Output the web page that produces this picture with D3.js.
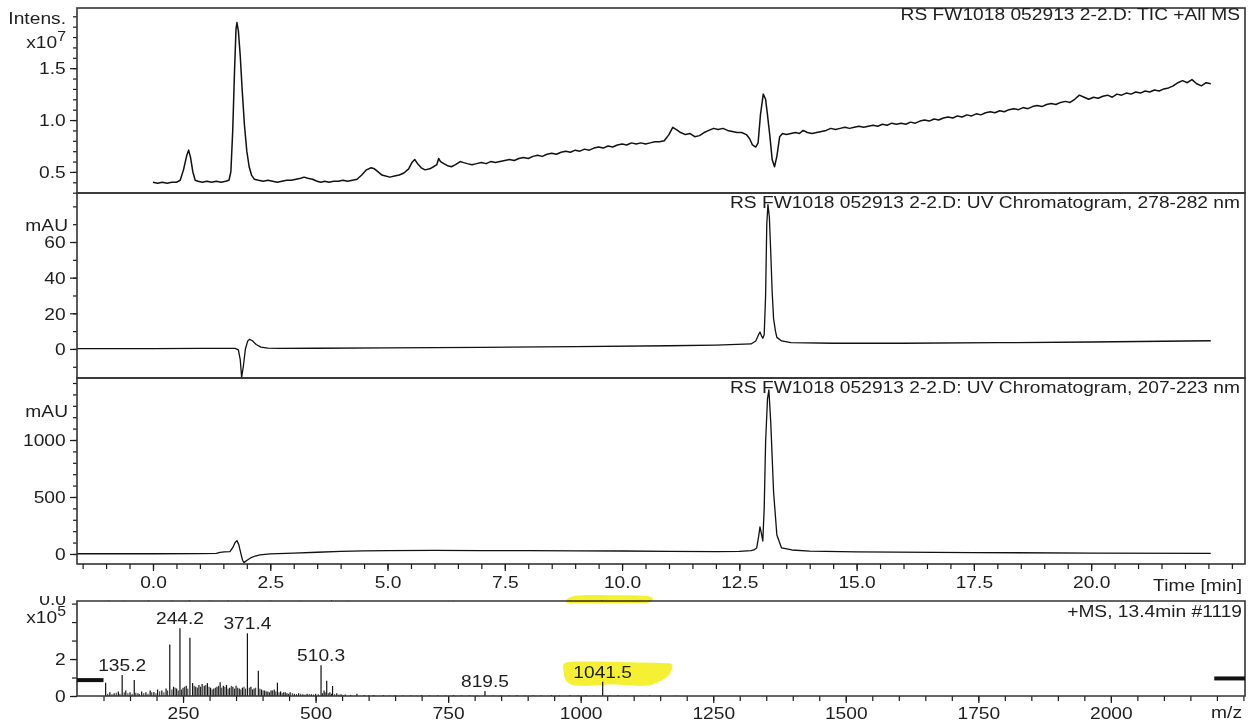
<!DOCTYPE html>
<html>
<head>
<meta charset="utf-8">
<script src="https://cdn.jsdelivr.net/npm/d3@7"></script>
<style>
  body { margin: 0; background: #fff; }
  svg { display: block; }
  text { font-family: "Liberation Sans", Arial, sans-serif; fill: #1e1e1e; }
</style>
</head>
<body>
<svg id="chart" width="1257" height="723"></svg>
<script>
'use strict';

// ---- data ----
// TIC +All MS, [time min, intensity x10^7]
var ticPoints = [
  [0.00,0.40],[0.10,0.39],[0.20,0.40],[0.30,0.39],[0.40,0.40],[0.50,0.40],[0.58,0.42],[0.65,0.52],[0.72,0.66],[0.76,0.71],
  [0.80,0.64],[0.85,0.50],[0.90,0.42],[0.96,0.41],[1.05,0.40],[1.15,0.41],[1.25,0.40],[1.35,0.41],[1.45,0.40],[1.55,0.41],
  [1.62,0.42],[1.66,0.50],[1.70,0.90],[1.74,1.50],[1.77,1.88],[1.79,1.94],[1.82,1.86],[1.86,1.62],[1.90,1.30],[1.95,0.95],
  [2.00,0.70],[2.05,0.55],[2.10,0.47],[2.16,0.43],[2.25,0.42],[2.35,0.41],[2.45,0.42],[2.55,0.41],[2.65,0.40],[2.75,0.41],
  [2.85,0.42],[2.95,0.42],[3.05,0.43],[3.15,0.44],[3.22,0.45],[3.30,0.44],[3.40,0.43],[3.50,0.41],[3.58,0.40],[3.66,0.41],
  [3.75,0.40],[3.85,0.41],[3.95,0.41],[4.05,0.42],[4.15,0.41],[4.25,0.42],[4.35,0.43],[4.45,0.47],[4.55,0.52],[4.65,0.54],
  [4.72,0.53],[4.80,0.50],[4.88,0.47],[4.96,0.46],[5.05,0.45],[5.15,0.46],[5.25,0.47],[5.35,0.49],[5.45,0.53],[5.52,0.59],
  [5.58,0.62],[5.64,0.58],[5.72,0.54],[5.80,0.52],[5.90,0.53],[5.98,0.55],[6.05,0.57],[6.09,0.63],[6.13,0.60],[6.20,0.58],
  [6.28,0.56],[6.36,0.55],[6.45,0.57],[6.55,0.60],[6.62,0.59],[6.70,0.58],[6.80,0.57],[6.90,0.58],[7.00,0.59],[7.10,0.58],
  [7.20,0.60],[7.30,0.59],[7.40,0.60],[7.50,0.61],[7.60,0.62],[7.70,0.61],[7.80,0.63],[7.90,0.64],[8.00,0.63],[8.10,0.65],
  [8.20,0.66],[8.30,0.65],[8.40,0.67],[8.50,0.68],[8.60,0.67],[8.70,0.69],[8.80,0.70],[8.90,0.69],[9.00,0.71],[9.10,0.70],
  [9.20,0.72],[9.30,0.71],[9.40,0.73],[9.50,0.74],[9.60,0.73],[9.70,0.75],[9.80,0.74],[9.90,0.76],[10.00,0.77],[10.10,0.76],
  [10.20,0.78],[10.30,0.77],[10.40,0.78],[10.50,0.77],[10.60,0.78],[10.70,0.79],[10.80,0.79],[10.90,0.80],[11.00,0.86],[11.08,0.93],
  [11.15,0.91],[11.25,0.88],[11.35,0.86],[11.45,0.87],[11.55,0.84],[11.65,0.85],[11.75,0.88],[11.85,0.90],[11.95,0.92],[12.05,0.91],
  [12.15,0.92],[12.25,0.90],[12.35,0.89],[12.45,0.88],[12.55,0.88],[12.65,0.86],[12.72,0.82],[12.78,0.76],[12.85,0.74],[12.90,0.78],
  [12.95,1.05],[13.01,1.25],[13.06,1.20],[13.10,1.05],[13.15,0.85],[13.20,0.62],[13.25,0.55],[13.30,0.65],[13.36,0.84],[13.42,0.87],
  [13.50,0.86],[13.60,0.87],[13.70,0.88],[13.78,0.87],[13.86,0.90],[13.95,0.88],[14.05,0.87],[14.15,0.88],[14.25,0.89],[14.35,0.90],
  [14.45,0.92],[14.55,0.91],[14.65,0.92],[14.75,0.93],[14.85,0.92],[14.95,0.93],[15.05,0.94],[15.15,0.93],[15.25,0.94],[15.35,0.95],
  [15.45,0.94],[15.55,0.96],[15.65,0.95],[15.75,0.97],[15.85,0.96],[15.95,0.97],[16.05,0.96],[16.15,0.98],[16.25,0.97],[16.35,0.99],
  [16.45,1.00],[16.55,0.99],[16.65,1.01],[16.75,1.00],[16.85,1.02],[16.95,1.03],[17.05,1.02],[17.15,1.04],[17.25,1.03],[17.35,1.05],
  [17.45,1.04],[17.55,1.06],[17.65,1.05],[17.75,1.07],[17.85,1.08],[17.95,1.07],[18.05,1.09],[18.15,1.08],[18.25,1.10],[18.35,1.11],
  [18.45,1.10],[18.55,1.12],[18.65,1.11],[18.75,1.13],[18.85,1.14],[18.95,1.13],[19.05,1.15],[19.15,1.16],[19.25,1.15],[19.35,1.17],
  [19.45,1.18],[19.55,1.17],[19.65,1.20],[19.75,1.24],[19.85,1.22],[19.95,1.20],[20.05,1.22],[20.15,1.21],[20.25,1.23],[20.35,1.24],
  [20.45,1.22],[20.55,1.25],[20.65,1.24],[20.75,1.26],[20.85,1.25],[20.95,1.27],[21.05,1.26],[21.15,1.28],[21.25,1.27],[21.35,1.29],
  [21.45,1.28],[21.55,1.30],[21.65,1.31],[21.75,1.33],[21.85,1.36],[21.95,1.38],[22.05,1.36],[22.15,1.39],[22.25,1.35],[22.35,1.33],
  [22.45,1.36],[22.55,1.35]
];

// UV 278-282 nm, [time min, mAU]
var uv280Points = [
  [-1.62,0.2],[0.0,0.2],[1.0,0.3],[1.75,0.3],[1.82,-0.5],[1.86,-6],[1.89,-16],[1.93,-9],[1.97,0],[2.02,4.5],
  [2.06,5.4],[2.12,4.6],[2.20,2.5],[2.30,1.0],[2.45,0.5],[2.70,0.3],[3.5,0.4],[5.0,0.6],[7.0,0.9],[9.0,1.3],
  [11.0,1.8],[12.0,2.2],[12.75,2.8],[12.85,4.5],[12.91,8],[12.94,9.5],[12.97,7.5],[13.00,6],[13.03,8],[13.06,30],
  [13.085,70],[13.11,81],[13.14,74],[13.17,54],[13.20,32],[13.23,17],[13.27,10],[13.30,6.5],[13.40,4.5],[13.60,3.6],
  [14.5,3.2],[16.0,3.2],[18.0,3.5],[20.0,3.9],[22.55,4.6]
];

// UV 207-223 nm, [time min, mAU]
var uv215Points = [
  [-1.62,2],[0.0,2],[1.0,3],[1.35,6],[1.43,14],[1.52,18],[1.64,20],[1.70,55],[1.75,100],[1.79,117],
  [1.83,80],[1.87,10],[1.91,-55],[1.94,-76],[1.99,-60],[2.08,-35],[2.18,-18],[2.28,-8],[2.50,0],[3.0,8],
  [3.5,15],[4.0,22],[4.5,27],[5.0,30],[6.0,31],[7.0,30],[8.0,29],[9.0,28],[10.0,26],[11.0,23],
  [12.0,20],[12.5,22],[12.75,30],[12.81,35],[12.87,53],[12.91,150],[12.94,237],[12.97,180],[13.00,114],[13.03,400],
  [13.06,982],[13.10,1360],[13.13,1439],[13.17,1150],[13.23,544],[13.30,167],[13.40,53],[13.62,35],[14.0,25],[15.0,18],
  [17.5,12],[20.0,8],[22.55,6]
];

// +MS 13.4 min spectrum, [m/z, intensity x10^5]
var msPeaks = [
  [104,0.72],[112,0.20],[120,0.15],[128,0.25],[135.2,1.13],[142,0.30],[150,0.20],[158,0.86],[165,0.15],[172,0.25],
  [180,0.20],[188,0.30],[195,0.22],[202,0.35],[210,0.30],[218,0.40],[225,2.79],[232,0.50],[238,0.40],[244.2,3.66],
  [250,0.45],[256,0.55],[263,3.15],[268,0.70],[274,0.50],[280,0.60],[286,0.65],[290,0.55],[296,0.70],[302,0.45],
  [308,0.40],[314,0.50],[320,0.75],[326,0.55],[332,0.60],[338,0.45],[344,0.50],[350,0.55],[356,0.40],[362,0.45],
  [371.4,3.39],[378,0.50],[384,0.40],[392,1.37],[398,0.35],[404,0.30],[410,0.25],[416,0.30],[422,0.35],[428,0.72],
  [434,0.25],[440,0.20],[446,0.15],[452,0.20],[460,0.12],[468,0.15],[476,0.10],[484,0.12],[492,0.10],[500,0.12],
  [510.3,1.66],[516,0.30],[521,0.83],[527,0.20],[532,0.54],[540,0.15],[548,0.10],[556,0.08],[566,0.06],[578,0.12],
  [592,0.05],[610,0.06],[628,0.04],[650,0.05],[680,0.04],[700,0.05],[730,0.04],[760,0.05],[790,0.04],[819.5,0.27],
  [850,0.04],[880,0.05],[910,0.04],[945,0.05],[980,0.04],[1010,0.05],[1041.5,0.77],[1070,0.04],[1100,0.03],[1130,0.04]
];
// the low "grass" between the named peaks
var msGrass = [
  [108,0.12],[116,0.10],[124,0.18],[131,0.12],[139,0.20],[146,0.15],[154,0.12],[161,0.18],[168,0.10],[176,0.15],
  [184,0.12],[191,0.20],[199,0.15],[206,0.25],[214,0.20],[221,0.30],[229,0.35],[235,0.45],[241,0.30],[247,0.35],
  [253,0.50],[259,0.40],[271,0.55],[277,0.45],[283,0.50],[293,0.60],[299,0.50],[305,0.35],[311,0.45],[317,0.55],
  [323,0.45],[329,0.50],[335,0.40],[341,0.55],[347,0.40],[353,0.45],[359,0.35],[365,0.50],[368,0.40],[375,0.45],
  [381,0.35],[387,0.45],[395,0.40],[401,0.30],[407,0.25],[413,0.20],[419,0.30],[425,0.25],[431,0.20],[437,0.15],
  [443,0.20],[449,0.12],[456,0.15],[464,0.10],[472,0.12],[480,0.08],[488,0.10],[496,0.08],[505,0.10],[513,0.15],
  [518,0.20],[524,0.15],[530,0.12],[536,0.10],[544,0.08],[552,0.06],[600,0.04],[640,0.03],[665,0.04],[690,0.03],
  [715,0.04],[745,0.03],[775,0.04],[805,0.03],[835,0.03],[865,0.04],[895,0.03],[925,0.04],[960,0.03],[995,0.04],
  [1025,0.03],[1055,0.04],[1085,0.03],[1115,0.03],[1150,0.03],[1180,0.02]
];
var msLabels = ["135.2","244.2","371.4","510.3","819.5","1041.5"];
// spikes of the cut-off spectrum poking over the top edge, [m/z, height above edge]
var msStray = [[110,0.15],[140,0.1],[185,0.2],[230,0.15],[262,0.25],[300,0.15],[335,0.2],[372,0.1],[415,0.15],[470,0.1],[530,0.25],[560,0.1],[760,0.1],[980,0.15],[1040,0.2]];

var timeMajor = [0, 2.5, 5, 7.5, 10, 12.5, 15, 17.5, 20];
var ticMajor = [0.5, 1.0, 1.5];
var uv280Major = [0, 20, 40, 60];
var uv215Major = [0, 500, 1000];
var mzMajor = [250, 500, 750, 1000, 1250, 1500, 1750, 2000];
var msMajor = [0, 2];

var titles = [
  "RS FW1018 052913 2-2.D: TIC +All MS",
  "RS FW1018 052913 2-2.D: UV Chromatogram, 278-282 nm",
  "RS FW1018 052913 2-2.D: UV Chromatogram, 207-223 nm"
];

// ---- layout ----
var L = 77, R = 1245;
var stretch = 1.13;       // the scan is wider than the font
var ink = "#1a1a1a";

var svg = d3.select("#chart");

var x = d3.scaleLinear().domain([-1.62, 23.28]).range([L, R]);
var yTic = d3.scaleLinear().domain([0.297, 2.08]).range([193, 8]);
var yUv280 = d3.scaleLinear().domain([-16.3, 87.5]).range([378, 193]);
var yUv215 = d3.scaleLinear().domain([-88, 1544]).range([564, 378]);
var xMz = d3.scaleLinear().domain([50, 2253]).range([L, R]);
var yMs = d3.scaleLinear().domain([0, 5.14]).range([696, 601]);

function label(px, py, str, anchor) {
  var g = svg.append("g").attr("transform", "translate(" + px + "," + py + ") scale(" + stretch + ",1)");
  return g.append("text").attr("text-anchor", anchor || "start").attr("font-size", 17).text(str);
}

function styleAxis(g) {
  g.select(".domain").remove();
  g.selectAll("line").attr("stroke", ink).attr("stroke-width", 1.2);
  g.selectAll("text").attr("font-size", 17).attr("fill", ink)
    .attr("font-family", "Liberation Sans, Arial, sans-serif");
}

// panel frames + y axes
var panels = [
  {y: yTic, pts: ticPoints, minor: d3.range(0.3, 2.05, 0.1), major: ticMajor, fmt: d3.format(".1f"), title: titles[0], tY: 20, w: 1.5},
  {y: yUv280, pts: uv280Points, minor: d3.range(-10, 81, 10), major: uv280Major, fmt: d3.format("d"), title: titles[1], tY: 208, w: 1.3},
  {y: yUv215, pts: uv215Points, minor: d3.range(0, 1501, 100), major: uv215Major, fmt: d3.format("d"), title: titles[2], tY: 393, w: 1.3}
];

panels.forEach(function(p, i) {
  var top = p.y.range()[1], bot = p.y.range()[0];
  var clipId = "clip" + i;
  svg.append("clipPath").attr("id", clipId)
    .append("rect").attr("x", L).attr("y", top).attr("width", R - L).attr("height", bot - top);

  svg.append("g").attr("transform", "translate(" + L + ",0)")
    .call(d3.axisLeft(p.y).tickValues(p.minor).tickSize(4).tickFormat(""))
    .call(styleAxis);
  var major = svg.append("g").attr("transform", "translate(" + L + ",0)")
    .call(d3.axisLeft(p.y).tickValues(p.major).tickSize(7).tickPadding(3).tickFormat(p.fmt))
    .call(styleAxis);
  major.selectAll("text").attr("transform", "scale(" + stretch + ",1)").attr("dy", "0.34em");

  var line = d3.line().x(function(d){ return x(d[0]) }).y(function(d){ return p.y(d[1]) });
  svg.append("path")
    .datum(p.pts)
    .attr("clip-path", "url(#" + clipId + ")")
    .attr("fill", "none")
    .attr("stroke", "#111")
    .attr("stroke-width", p.w)
    .attr("stroke-linejoin", "round")
    .attr("d", line);

  svg.append("rect")
    .attr("x", L).attr("y", top).attr("width", R - L).attr("height", bot - top)
    .attr("fill", "none").attr("stroke", "#333").attr("stroke-width", 1.6);

  label(R - 5, p.tY, p.title, "end");
});

// y-axis unit labels
label(66, 24, "Intens.", "end");
var xl = label(66, 48, "x10", "end");
xl.append("tspan").attr("dy", -7).attr("font-size", 14).text("7");
label(68, 231, "mAU", "end");
label(68, 417, "mAU", "end");

// time axis
svg.append("g").attr("transform", "translate(0,564)")
  .call(d3.axisBottom(x).tickValues(d3.range(-1.5, 23.01, 0.5)).tickSize(5).tickFormat(""))
  .call(styleAxis);
var tAx = svg.append("g").attr("transform", "translate(0,564)")
  .call(d3.axisBottom(x).tickValues(timeMajor).tickSize(7).tickPadding(5).tickFormat(d3.format(".1f")))
  .call(styleAxis);
tAx.selectAll("text").attr("transform", "scale(" + stretch + ",1)");
label(R - 3, 591, "Time [min]", "end");

// ---- mass spectrum panel ----
svg.append("clipPath").attr("id", "clipStray")
  .append("rect").attr("x", 0).attr("y", 596).attr("width", 1257).attr("height", 9);
svg.append("g").attr("clip-path", "url(#clipStray)")
  .append("g").attr("transform", "translate(66,605) scale(" + stretch + ",1)")
  .append("text").attr("text-anchor", "end").attr("font-size", 17).text("0.0");

svg.selectAll(".stray").data(msStray).enter().append("line")
  .attr("x1", function(d){ return xMz(d[0]) }).attr("x2", function(d){ return xMz(d[0]) })
  .attr("y1", yMs(5.14)).attr("y2", function(d){ return yMs(5.14 + d[1] * 0.2) })
  .attr("stroke", "#333").attr("stroke-width", 1);

svg.append("g").attr("transform", "translate(" + L + ",0)")
  .call(d3.axisLeft(yMs).tickValues([0, 1, 2, 3, 4, 5]).tickSize(5).tickFormat(""))
  .call(styleAxis);
var msY = svg.append("g").attr("transform", "translate(" + L + ",0)")
  .call(d3.axisLeft(yMs).tickValues(msMajor).tickSize(7).tickPadding(3).tickFormat(d3.format("d")))
  .call(styleAxis);
msY.selectAll("text").attr("transform", "scale(" + stretch + ",1)").attr("dy", "0.34em");
var x5 = label(66, 623, "x10", "end");
x5.append("tspan").attr("dy", -7).attr("font-size", 14).text("5");

svg.append("g").attr("transform", "translate(0," + yMs(0) + ")")
  .call(d3.axisBottom(xMz).tickValues(d3.range(100, 2251, 50)).tickSize(5).tickFormat(""))
  .call(styleAxis);
var mzAx = svg.append("g").attr("transform", "translate(0," + yMs(0) + ")")
  .call(d3.axisBottom(xMz).tickValues(mzMajor).tickSize(7).tickPadding(4).tickFormat(d3.format("d")))
  .call(styleAxis);
mzAx.selectAll("text").attr("transform", "scale(" + stretch + ",1)");
label(R - 3, 718, "m/z", "end");

svg.selectAll(".grass").data(msGrass).enter().append("line")
  .attr("x1", function(d){ return xMz(d[0]) }).attr("x2", function(d){ return xMz(d[0]) })
  .attr("y1", yMs(0)).attr("y2", function(d){ return yMs(d[1]) })
  .attr("stroke", "#222").attr("stroke-width", 1);

svg.selectAll(".peak").data(msPeaks).enter().append("line")
  .attr("x1", function(d){ return xMz(d[0]) }).attr("x2", function(d){ return xMz(d[0]) })
  .attr("y1", yMs(0)).attr("y2", function(d){ return yMs(d[1]) })
  .attr("stroke", "#111").attr("stroke-width", 1.2);

// frame of the spectrum
svg.append("path")
  .attr("d", "M" + L + "," + yMs(0) + "V" + yMs(5.14) + "H" + R + "V" + yMs(0) + "H" + L)
  .attr("fill", "none").attr("stroke", "#333").attr("stroke-width", 1.6);

// precursor bars at both ends
var bars = [[50, 100, 0.86], [2195, 2253, 0.95]];
svg.selectAll(".bar").data(bars).enter().append("line")
  .attr("x1", function(d){ return xMz(d[0]) }).attr("x2", function(d){ return xMz(d[1]) })
  .attr("y1", function(d){ return yMs(d[2]) }).attr("y2", function(d){ return yMs(d[2]) })
  .attr("stroke", "#111").attr("stroke-width", 4);

// peak annotations
msLabels.forEach(function(s) {
  var mz = +s;
  var pk = msPeaks.find(function(d){ return d[0] === mz });
  label(xMz(mz), yMs(pk[1]) - 4, s, "middle");
});

label(R - 3, 617, "+MS, 13.4min #1119", "end");

// highlighter strokes, in m/z / intensity units
var marks = [
  [[972,1.80],[1020,1.86],[1090,1.82],[1150,1.78],[1172,1.70],[1168,1.20],[1150,0.80],[1120,0.55],[1060,0.62],[1000,0.55],[975,0.75],[968,1.30]],
  [[975,5.05],[1040,5.00],[1100,5.02],[1132,5.08],[1128,5.40],[1060,5.45],[990,5.42]]
];
svg.selectAll(".mark").data(marks).enter().append("path")
  .attr("d", function(d){ return d3.line().x(function(p){ return xMz(p[0]) }).y(function(p){ return yMs(p[1]) }).curve(d3.curveCardinalClosed)(d) })
  .attr("fill", "#f4ef1c").attr("opacity", 0.9)
  .style("mix-blend-mode", "multiply");
</script>
</body>
</html>
